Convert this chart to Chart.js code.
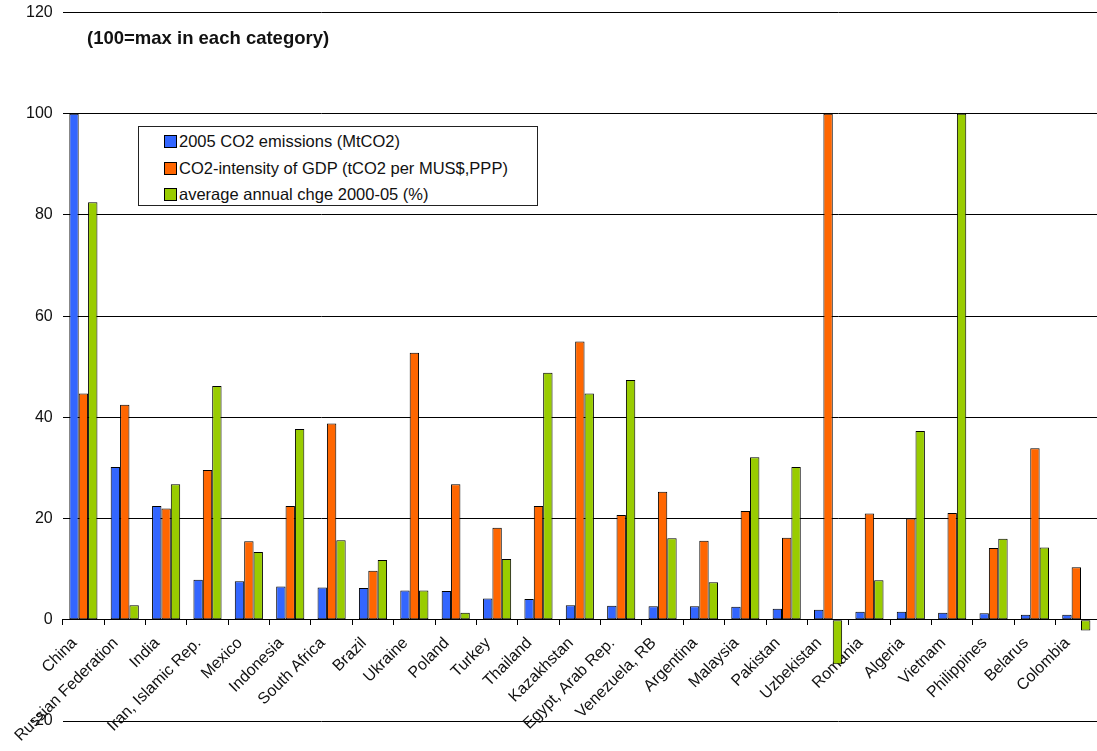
<!DOCTYPE html>
<html>
<head>
<meta charset="utf-8">
<script src="https://cdn.jsdelivr.net/npm/chart.js@4.4.1/dist/chart.umd.min.js"></script>
<style>
    body { margin: 0; background: #fff; font-family: "Liberation Sans", Arial, sans-serif; }
    #wrap { position: relative; width: 1097px; height: 751px; }
    #note { position: absolute; left: 87px; top: 27px; font-size: 18.5px; font-weight: bold; color: #111; }
    #legend { position: absolute; left: 138px; top: 126px; width: 400px; height: 80px; border: 1px solid #222;
              box-sizing: border-box; background: #fff; padding: 1px 0 0 25px; font-size: 16.5px; color: #111; }
    #legend div { height: 26.5px; line-height: 26.5px; white-space: nowrap; }
    #legend span.box { display: inline-block; width: 11px; height: 11px; border: 1px solid #000; margin-right: 2px; vertical-align: -1px; }
</style>
</head>
<body>
<div id="wrap">
    <canvas id="co2Chart" width="1097" height="751"></canvas>
    <div id="note">(100=max in each category)</div>
    <div id="legend"></div>
</div>
<script>
const countries = ['China', 'Russian Federation', 'India', 'Iran, Islamic Rep.', 'Mexico', 'Indonesia',
    'South Africa', 'Brazil', 'Ukraine', 'Poland', 'Turkey', 'Thailand', 'Kazakhstan', 'Egypt, Arab Rep.',
    'Venezuela, RB', 'Argentina', 'Malaysia', 'Pakistan', 'Uzbekistan', 'Romania', 'Algeria', 'Vietnam',
    'Philippines', 'Belarus', 'Colombia'];

const emissions2005 = [100, 30.2, 22.5, 7.9, 7.6, 6.6, 6.4, 6.3, 5.8, 5.7, 4.2, 4.1, 2.9, 2.8,
    2.7, 2.7, 2.6, 2.2, 2.0, 1.6, 1.6, 1.4, 1.3, 1.0, 1.0];
const intensityGdp = [44.7, 42.5, 22.0, 29.6, 15.5, 22.5, 38.8, 9.7, 52.8, 26.8, 18.2, 22.5, 55.0, 20.7,
    25.3, 15.6, 21.5, 16.2, 100, 21.0, 20.0, 21.1, 14.2, 33.9, 10.4];
const annualChange = [82.5, 2.9, 26.8, 46.2, 13.4, 37.7, 15.7, 11.8, 5.8, 1.4, 12.0, 48.8, 44.7, 47.4,
    16.1, 7.4, 32.1, 30.2, -8.8, 7.8, 37.3, 100, 16.0, 14.3, -2.1];

const yTicks = [-20, 0, 20, 40, 60, 80, 100, 120];

const seriesNames = ['2005 CO2 emissions (MtCO2)', 'CO2-intensity of GDP (tCO2 per MUS$,PPP)', 'average annual chge 2000-05 (%)'];
const seriesColors = ['#3366FF', '#FF6600', '#99CC00'];
const seriesData = [emissions2005, intensityGdp, annualChange];

const labelFont = { family: '"Liberation Sans", Arial, sans-serif', size: 16 };

document.addEventListener('DOMContentLoaded', function() {
    const ctx = document.getElementById('co2Chart').getContext('2d');

    new Chart(ctx, {
        type: 'bar',
        data: {
            labels: countries,
            datasets: seriesData.map((d, i) => ({
                label: seriesNames[i],
                data: d,
                backgroundColor: seriesColors[i],
                borderColor: '#000',
                borderWidth: 1,
                borderSkipped: false,
                categoryPercentage: 0.68,
                barPercentage: 1
            }))
        },
        options: {
            responsive: false,
            animation: false,
            layout: { padding: { left: 23, right: 0, top: 0, bottom: 30 } },
            plugins: {
                legend: { display: false },
                tooltip: { enabled: false }
            },
            scales: {
                y: {
                    min: -20,
                    max: 120,
                    afterBuildTicks: scale => { scale.ticks = yTicks.map(v => ({ value: v })); },
                    grid: { color: '#000', lineWidth: 1, drawTicks: true, tickLength: 7, tickColor: 'rgba(0,0,0,0)' },
                    border: { display: false },
                    ticks: { color: '#111', font: labelFont, padding: 3 }
                },
                x: {
                    position: { y: 0 },
                    afterFit: scale => { scale.paddingRight = 0; scale.paddingLeft = 0; },
                    grid: { drawOnChartArea: false, drawTicks: true, tickLength: 5, color: '#000' },
                    border: { display: true, color: '#000' },
                    ticks: { color: '#111', font: labelFont, minRotation: 45, maxRotation: 45, autoSkip: false,
                             padding: 9, labelOffset: -9 }
                }
            }
        }
    });

    // html legend
    const legend = document.getElementById('legend');
    seriesNames.forEach((name, i) => {
        const row = document.createElement('div');
        row.innerHTML = '<span class="box" style="background:' + seriesColors[i] + '"></span>' + name;
        legend.appendChild(row);
    });
});
</script>
</body>
</html>
